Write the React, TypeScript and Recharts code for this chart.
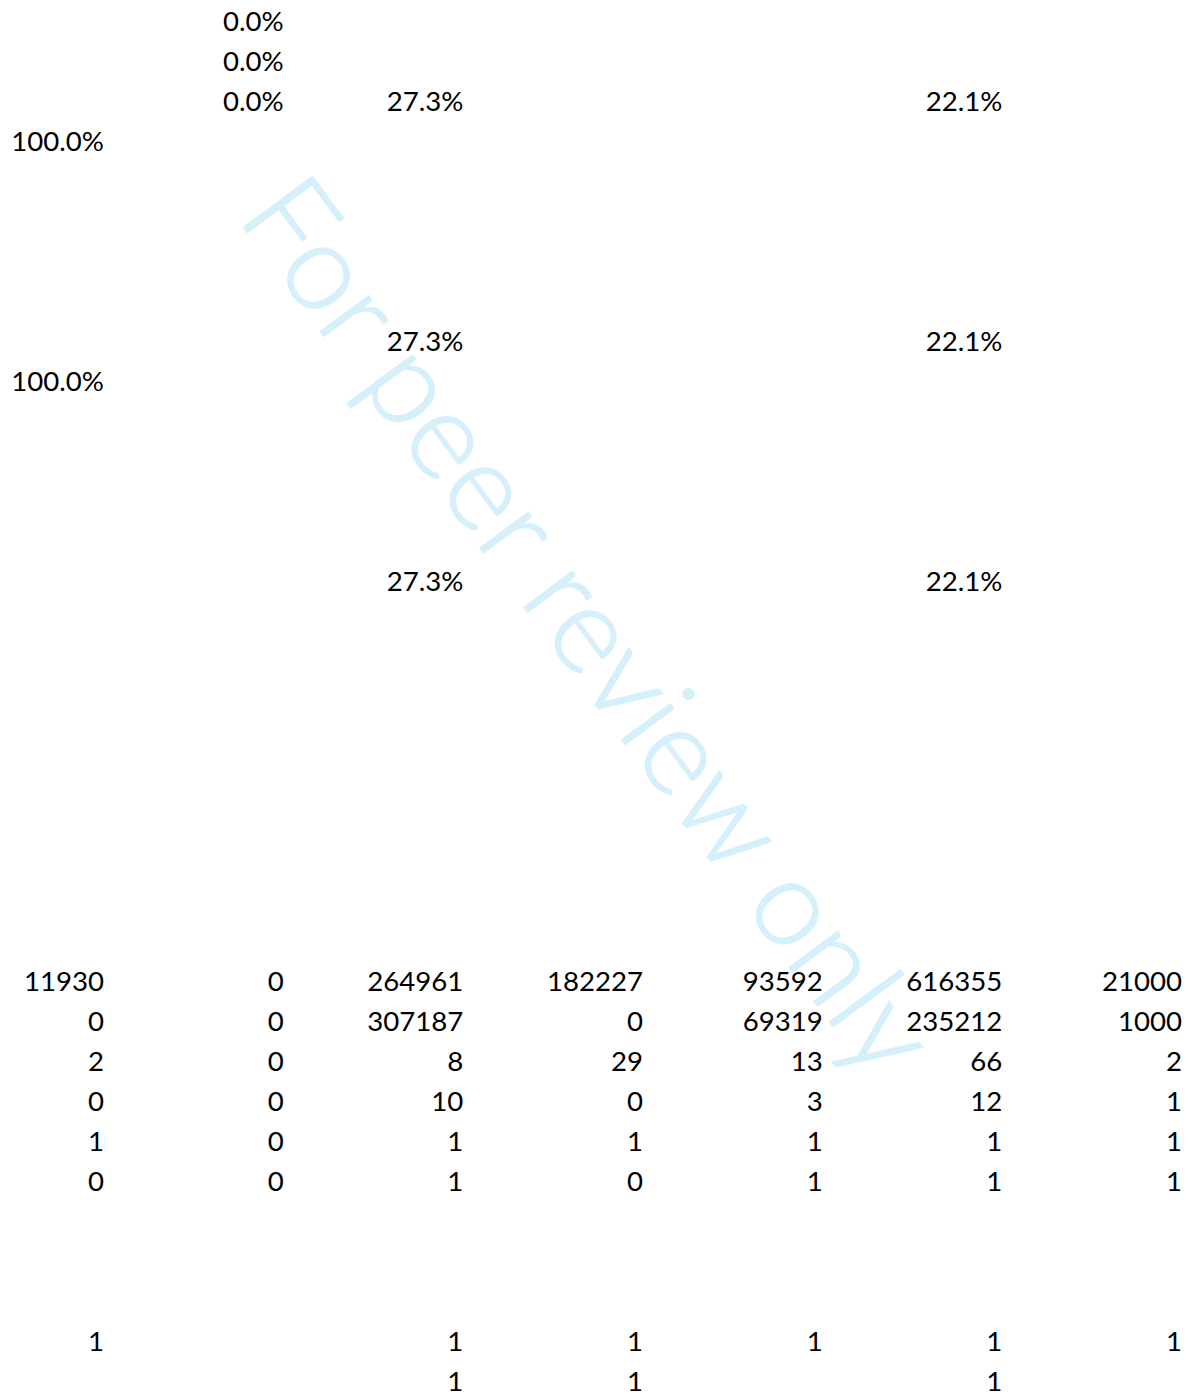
import { ScatterChart, Scatter, XAxis, YAxis } from "recharts";

// sheet columns (0..6) and the rows that hold values
const columnIds = [0, 1, 2, 3, 4, 5, 6];

// share rows (top block)
const shareRow1 = [null, "0.0%", null, null, null, null, null];
const shareRow2 = [null, "0.0%", null, null, null, null, null];
const shareRow3 = [null, "0.0%", "27.3%", null, null, "22.1%", null];
const shareRow4 = ["100.0%", null, null, null, null, null, null];
const shareRow9 = [null, null, "27.3%", null, null, "22.1%", null];
const shareRow10 = ["100.0%", null, null, null, null, null, null];
const shareRow15 = [null, null, "27.3%", null, null, "22.1%", null];

// count rows (bottom block)
const countRow25 = [11930, 0, 264961, 182227, 93592, 616355, 21000];
const countRow26 = [0, 0, 307187, 0, 69319, 235212, 1000];
const countRow27 = [2, 0, 8, 29, 13, 66, 2];
const countRow28 = [0, 0, 10, 0, 3, 12, 1];
const flagRow29 = [1, 0, 1, 1, 1, 1, 1];
const flagRow30 = [0, 0, 1, 0, 1, 1, 1];
const markRow34 = [1, null, 1, 1, 1, 1, 1];
const markRow35 = [null, null, 1, 1, null, 1, null];

const sheet: [number, (string | number | null)[]][] = [
  [1, shareRow1],
  [2, shareRow2],
  [3, shareRow3],
  [4, shareRow4],
  [9, shareRow9],
  [10, shareRow10],
  [15, shareRow15],
  [25, countRow25],
  [26, countRow26],
  [27, countRow27],
  [28, countRow28],
  [29, flagRow29],
  [30, flagRow30],
  [34, markRow34],
  [35, markRow35],
];

const cells = sheet.flatMap(([row, values]) =>
  columnIds
    .filter((c) => values[c] !== null && values[c] !== undefined)
    .map((c) => ({ col: c, row, text: String(values[c]) }))
);

const CellText = (props: any) => {
  const { cx, cy, payload } = props;
  return (
    <text
      x={cx}
      y={cy + 9}
      textAnchor="end"
      fontFamily="Lato, sans-serif"
      fontSize={27.6}
      fill="#000000"
    >
      {payload.text}
    </text>
  );
};

export default function App() {
  return (
    <div style={{ position: "absolute", left: 0, top: 0, width: 1193, height: 1398, background: "#ffffff" }}>
      <svg width={1193} height={1398} style={{ position: "absolute", left: 0, top: 0 }}>
        <text
          transform="translate(236,217) rotate(53.6)"
          fontFamily="Lato, sans-serif"
          fontWeight={300}
          fontSize={121}
          fill="#d6f0fb"
          stroke="#d6f0fb"
          strokeWidth={1.5}
          textLength={1078}
          lengthAdjust="spacingAndGlyphs"
        >
          For peer review only
        </text>
      </svg>
      <div style={{ position: "absolute", left: 0, top: 0 }}>
        <ScatterChart
          width={1193}
          height={1398}
          margin={{ top: 21.5, right: 11, bottom: 16.5, left: 104 }}
        >
          <XAxis type="number" dataKey="col" domain={[0, 6]} hide />
          <YAxis type="number" dataKey="row" domain={[1, 35]} reversed hide />
          <Scatter data={cells} shape={CellText} isAnimationActive={false} />
        </ScatterChart>
      </div>
    </div>
  );
}
